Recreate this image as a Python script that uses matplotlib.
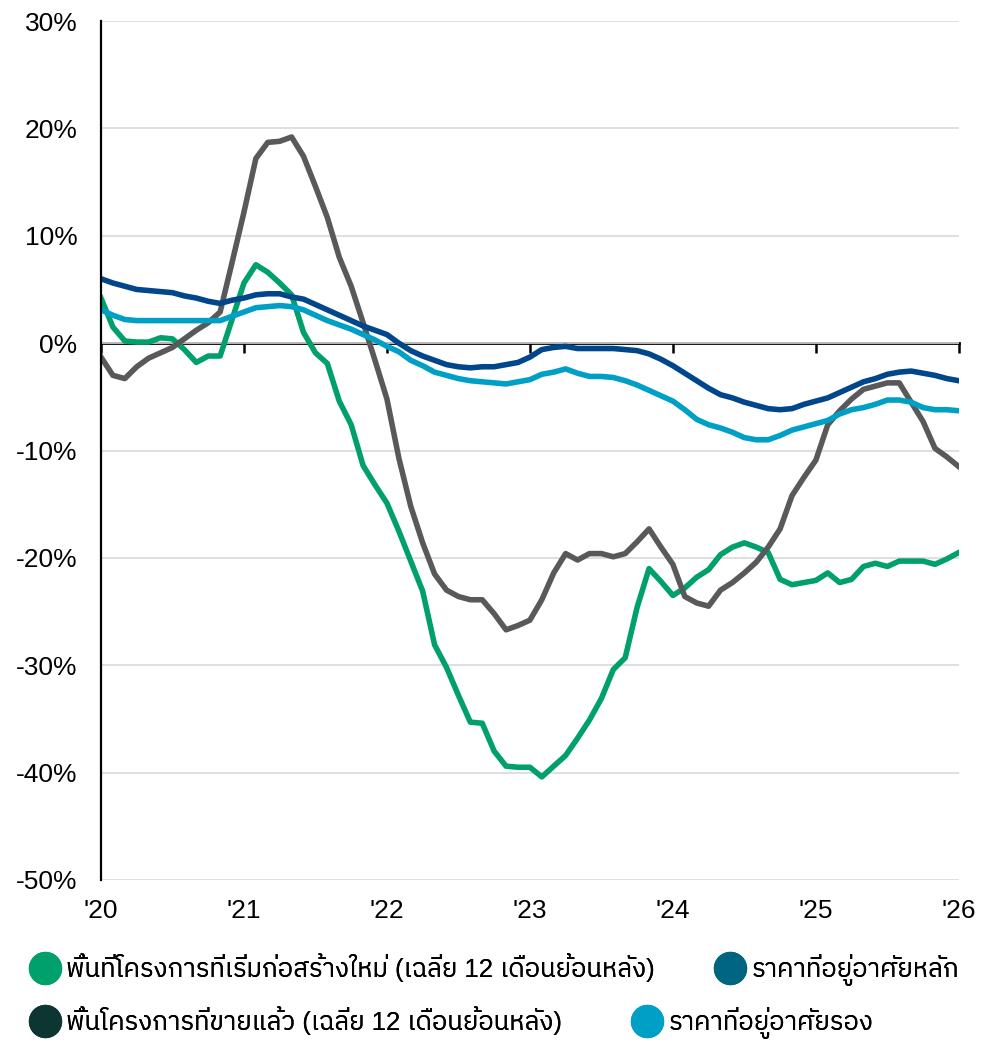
import numpy as np
import matplotlib
matplotlib.use("Agg")
import matplotlib.pyplot as plt
from matplotlib import font_manager
from matplotlib.ft2font import FT2Font
from matplotlib.lines import Line2D

# monthly values, Jan 2020 .. Jan 2026 (%, y/y)
new_launch = [4.2, 1.5, 0.2, 0.1, 0.1, 0.5, 0.4, -0.6, -1.8, -1.2, -1.2, 2.2,
              5.6, 7.3, 6.6, 5.6, 4.5, 1.0, -0.9, -1.9, -5.4, -7.6, -11.4, -13.2,
              -14.9, -17.5, -20.3, -23.1, -28.1, -30.2, -32.8, -35.3, -35.4, -38.0, -39.4, -39.5,
              -39.5, -40.4, -39.4, -38.4, -36.8, -35.1, -33.1, -30.4, -29.3, -24.6, -21.0, -22.2,
              -23.5, -22.8, -21.8, -21.1, -19.7, -19.0, -18.6, -19.0, -19.5, -22.0, -22.5, -22.3,
              -22.1, -21.4, -22.3, -22.0, -20.8, -20.5, -20.8, -20.3, -20.3, -20.3, -20.6, -20.1,
              -19.5]
sold = [-1.3, -3.0, -3.3, -2.2, -1.4, -0.9, -0.4, 0.4, 1.2, 1.9, 2.9, 7.5,
        12.2, 17.2, 18.7, 18.8, 19.2, 17.4, 14.6, 11.7, 8.0, 5.3, 1.9, -1.6,
        -5.2, -10.7, -15.2, -18.6, -21.5, -23.0, -23.6, -23.9, -23.9, -25.2, -26.7, -26.3,
        -25.8, -23.9, -21.4, -19.6, -20.2, -19.6, -19.6, -19.9, -19.6, -18.5, -17.3, -19.0,
        -20.6, -23.6, -24.2, -24.5, -23.0, -22.3, -21.4, -20.4, -19.0, -17.3, -14.2, -12.5,
        -10.9, -7.6, -6.3, -5.2, -4.3, -4.0, -3.7, -3.7, -5.5, -7.3, -9.8, -10.6,
        -11.5]
primary = [6.0, 5.6, 5.3, 5.0, 4.9, 4.8, 4.7, 4.4, 4.2, 3.9, 3.7, 4.0,
           4.2, 4.5, 4.6, 4.6, 4.3, 4.1, 3.6, 3.1, 2.6, 2.1, 1.6, 1.2,
           0.8, 0.0, -0.7, -1.2, -1.6, -2.0, -2.2, -2.3, -2.2, -2.2, -2.0, -1.8,
           -1.3, -0.6, -0.4, -0.3, -0.5, -0.5, -0.5, -0.5, -0.6, -0.7, -1.0, -1.5,
           -2.1, -2.8, -3.5, -4.2, -4.8, -5.1, -5.5, -5.8, -6.1, -6.2, -6.1, -5.7,
           -5.4, -5.1, -4.6, -4.1, -3.6, -3.3, -2.9, -2.7, -2.6, -2.8, -3.0, -3.3,
           -3.5]
secondary = [3.1, 2.6, 2.2, 2.1, 2.1, 2.1, 2.1, 2.1, 2.1, 2.1, 2.1, 2.5,
             2.9, 3.3, 3.4, 3.5, 3.4, 3.1, 2.6, 2.1, 1.7, 1.3, 0.8, 0.3,
             -0.3, -0.8, -1.6, -2.1, -2.7, -3.0, -3.3, -3.5, -3.6, -3.7, -3.8, -3.6,
             -3.4, -2.9, -2.7, -2.4, -2.8, -3.1, -3.1, -3.2, -3.5, -3.9, -4.4, -4.9,
             -5.4, -6.2, -7.1, -7.6, -7.9, -8.3, -8.8, -9.0, -9.0, -8.6, -8.1, -7.8,
             -7.5, -7.2, -6.6, -6.2, -6.0, -5.7, -5.3, -5.3, -5.5, -6.0, -6.2, -6.2,
             -6.3]
year_labels = ["'20", "'21", "'22", "'23", "'24", "'25", "'26"]
legend_labels = ["พื้นที่โครงการที่เริ่มก่อสร้างใหม่ (เฉลี่ย 12 เดือนย้อนหลัง)",
                 "ราคาที่อยู่อาศัยหลัก",
                 "พื้นโครงการที่ขายแล้ว (เฉลี่ย 12 เดือนย้อนหลัง)",
                 "ราคาที่อยู่อาศัยรอง"]

# find a font that has Thai glyphs
thai_fams = []
for f in font_manager.fontManager.ttflist:
    try:
        if 0x0E01 in FT2Font(f.fname).get_charmap():
            thai_fams.append(f.name)
    except Exception:
        pass
pref = [n for n in thai_fams if "Sans" in n and "Mono" not in n]
thai = (pref or thai_fams or ["DejaVu Sans"])[0]

plt.rcParams["font.family"] = ["Liberation Sans", thai, "DejaVu Sans"]

months = np.arange(len(primary))

fig = plt.figure(figsize=(9.9, 10.42), dpi=100)
ax = fig.add_axes([0.102, 0.1555, 0.8665, 0.8243])

ax.plot(months, new_launch, color="#00A06C", lw=4)
ax.plot(months, sold, color="#58595B", lw=4)
ax.plot(months, secondary, color="#00A0C6", lw=4)
ax.plot(months, primary, color="#00468B", lw=4)

ax.set_xlim(0, 72)
ax.set_ylim(-50, 30)
ax.set_yticks(np.arange(-50, 31, 10))
ax.set_yticklabels([f"{v}%" for v in range(-50, 31, 10)], fontsize=19)
ax.grid(axis="y", color="#D9D9D9", lw=1.2)
ax.set_axisbelow(True)
ax.tick_params(axis="y", length=0, pad=17)

ax.set_xticks(np.arange(0, 73, 12))
ax.set_xticklabels(year_labels, fontsize=19)
ax.tick_params(axis="x", length=0, pad=14)

for s in ["top", "right", "bottom"]:
    ax.spines[s].set_visible(False)
ax.spines["left"].set_linewidth(1.6)

# zero line with year ticks
zero = ax.secondary_xaxis(50 / 80)
zero.set_xticks(np.arange(0, 73, 12))
zero.set_xticklabels([])
zero.tick_params(axis="x", direction="in", length=7, width=1.8)
for s in zero.spines.values():
    s.set_linewidth(2)

colors_leg = ["#00A06C", "#006580", "#0D3633", "#00A0C6"]
rows = [(0, 1, 1 - 970 / 1042, 2.4), (2, 3, 1 - 1023 / 1042, 2.8)]
for a, b, y, cs in rows:
    handles = [Line2D([], [], ls="", marker="o", ms=23, color=colors_leg[i]) for i in (a, b)]
    leg = fig.legend(handles, [legend_labels[a], legend_labels[b]], ncol=2,
                     loc="center left", bbox_to_anchor=(0.032, y), frameon=False,
                     fontsize=18.5, handlelength=1.0, handletextpad=0.35,
                     columnspacing=cs, borderaxespad=0, borderpad=0)
    fig.add_artist(leg)

fig.savefig("out.png", dpi=100)
